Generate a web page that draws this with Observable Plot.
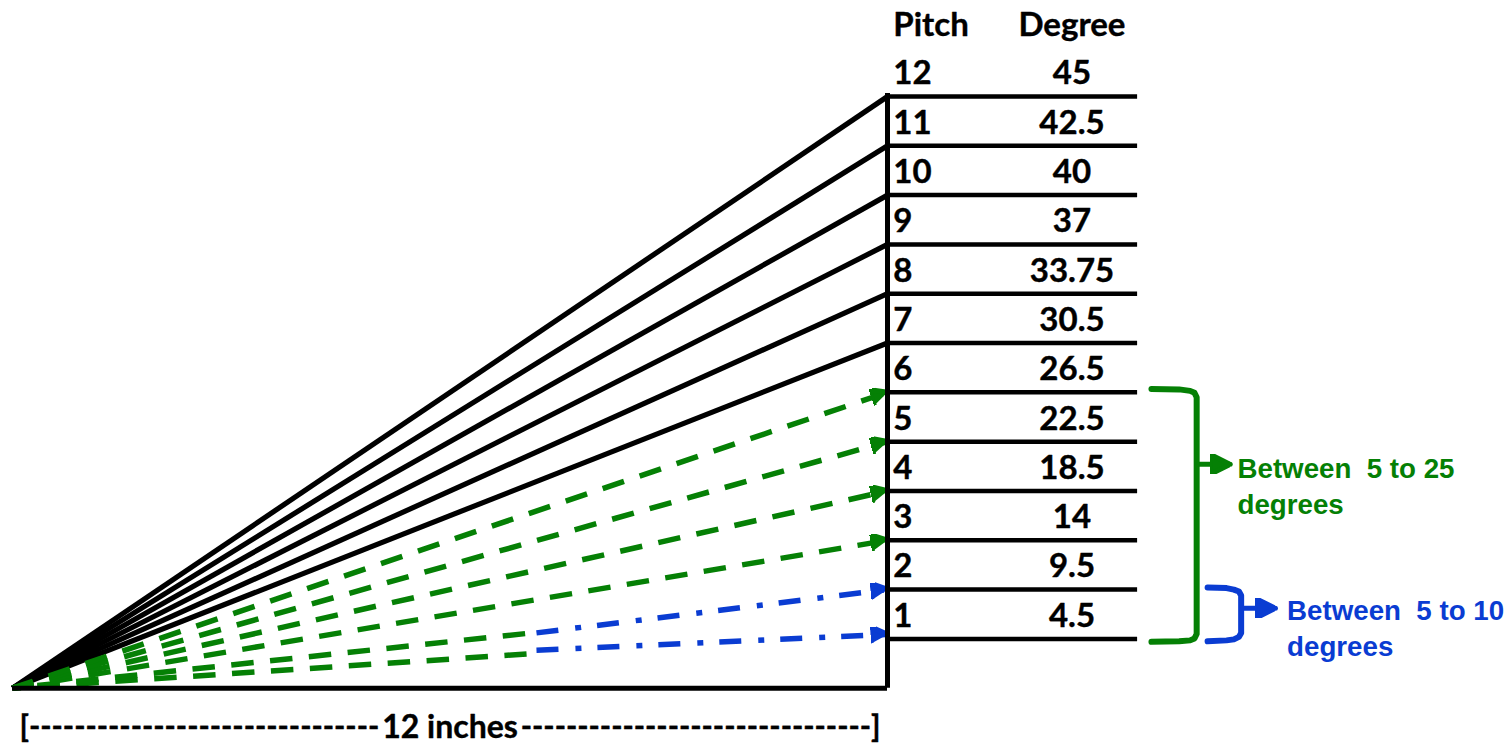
<!DOCTYPE html>
<html><head><meta charset="utf-8">
<script src="https://cdn.jsdelivr.net/npm/d3@7"></script>
<script src="https://cdn.jsdelivr.net/npm/@observablehq/plot@0.6"></script>
<style>html,body{margin:0;padding:0;background:#fff}svg{display:block}</style>
</head><body><div id="chart"></div>
<script>
const pitches = [1,2,3,4,5,6,7,8,9,10,11,12];
const degrees = ["4.5","9.5","14","18.5","22.5","26.5","30.5","33.75","37","40","42.5","45"];
const solidPitches = [7,8,9,10,11,12];
const greenPitches = [3,4,5,6];
// Broken rafters of pitch 1 and 2: green run from the origin, then blue run to the wall
const lowGreen = [{p:1,x:7.05,y:0.694},{p:2,x:7.05,y:1.11}];
const lowBlue = [{x1:7.186,y1:0.769,y2:1.089},{x1:7.186,y1:1.122,y2:2.0}];
const run = 12;
const tableEnd = 15.43;
const pitchColumn = 12.08;
const degreeColumn = 14.53;
const labelLeft = "[" + "-".repeat(31);
const labelMiddle = "12 inches";
const labelRight = "-".repeat(31) + "]";
const greenBracket = [[15.62,6.07],[16.0,6.06],[16.15,6.03],[16.21,5.99],[16.24,5.9],[16.24,1.1],[16.21,1.01],[16.15,0.97],[16.0,0.95],[15.62,0.94]];
const blueBracket = [[16.39,2.04],[16.65,2.03],[16.75,2.0],[16.82,1.96],[16.85,1.88],[16.85,1.12],[16.82,1.04],[16.75,0.99],[16.65,0.97],[16.39,0.95]];
const greenArrow = [[16.27,4.54],[16.7,4.54]];
const blueArrow = [[16.88,1.62],[17.32,1.62]];
const greenNote = ["Between  5 to 25","degrees"];
const blueNote = ["Between  5 to 10","degrees"];

const GREEN = "#058005", BLUE = "#0a3cd2", INK = "#000";
const head = (color) => {
  const m = document.createElementNS("http://www.w3.org/2000/svg","marker");
  m.setAttribute("viewBox","0 0 17 17"); m.setAttribute("refX","17"); m.setAttribute("refY","8.5");
  m.setAttribute("markerWidth","17"); m.setAttribute("markerHeight","17");
  m.setAttribute("markerUnits","userSpaceOnUse"); m.setAttribute("orient","auto");
  const p = document.createElementNS("http://www.w3.org/2000/svg","path");
  p.setAttribute("d","M0,0L17,8.5L0,17Z"); p.setAttribute("fill",color);
  m.appendChild(p); return m;
};
const bigHead = (color) => {
  const m = head(color);
  m.setAttribute("viewBox","0 0 20 20"); m.setAttribute("refX","20"); m.setAttribute("refY","10");
  m.setAttribute("markerWidth","20"); m.setAttribute("markerHeight","20");
  m.firstChild.setAttribute("d","M0,0L20,10L0,20Z");
  return m;
};
const body = {fontFamily:"Lato", fontWeight:700, fontSize:33, fill:INK, stroke:INK, strokeWidth:0.4, lineAnchor:"middle"};
const note = {fontFamily:"Liberation Sans", fontWeight:700, fontSize:27.7, textAnchor:"start", lineAnchor:"middle"};

const chart = Plot.plot({
  width:1506, height:744, margin:0,
  x:{domain:[0,run], range:[12,887], axis:null},
  y:{domain:[0,12], range:[687.7,96], axis:null},
  marks:[
    // solid rafters
    Plot.link(solidPitches,{x1:0,y1:0,x2:run,y2:d=>d,stroke:INK,strokeWidth:5.2}),
    // green dashed rafters
    Plot.link(lowGreen,{x1:0,y1:0,x2:"x",y2:"y",stroke:GREEN,strokeWidth:5.5,strokeDasharray:"22.5 16.5",strokeDashoffset:14}),
    Plot.link(greenPitches,{x1:0,y1:0,x2:run,y2:d=>d,stroke:GREEN,strokeWidth:5.5,strokeDasharray:"22.5 16.5",strokeDashoffset:1,markerEnd:head}),
    // blue dash-dot rafters
    Plot.link(lowBlue,{x1:"x1",y1:"y1",x2:run,y2:"y2",stroke:BLUE,strokeWidth:5.5,strokeDasharray:"22 17 6 16",markerEnd:head}),
    // frame and table rules
    Plot.ruleY([0],{x1:0,x2:run,stroke:INK,strokeWidth:5}),
    Plot.ruleX([run],{y1:0,y2:12.06,stroke:INK,strokeWidth:5}),
    Plot.ruleY(pitches,{x1:run,x2:tableEnd,stroke:INK,strokeWidth:4.5}),
    // table text
    Plot.text(pitches,{x:pitchColumn,y:d=>d+0.46,text:d=>String(d),textAnchor:"start",...body}),
    Plot.text(degrees,{x:degreeColumn,y:(d,i)=>pitches[i]+0.46,text:d=>d,textAnchor:"middle",...body}),
    Plot.text(["Pitch"],{x:pitchColumn,y:13.45,text:d=>d,textAnchor:"start",...body}),
    Plot.text(["Degree"],{x:degreeColumn,y:13.45,text:d=>d,textAnchor:"middle",...body}),
    // bottom dimension label
    Plot.text([labelLeft],{x:5.03,y:-0.8,text:d=>d,textAnchor:"end",...body,fontSize:30.3}),
    Plot.text([labelMiddle],{x:6,y:-0.8,text:d=>d,textAnchor:"middle",...body,fontSize:32}),
    Plot.text([labelRight],{x:6.97,y:-0.8,text:d=>d,textAnchor:"start",...body,fontSize:30.3}),
    // brackets
    Plot.line(greenBracket,{x:d=>d[0],y:d=>d[1],stroke:GREEN,strokeWidth:6,strokeLinejoin:"round",curve:"linear"}),
    Plot.line(blueBracket,{x:d=>d[0],y:d=>d[1],stroke:BLUE,strokeWidth:6,strokeLinejoin:"round",curve:"linear"}),
    Plot.line(greenArrow,{x:d=>d[0],y:d=>d[1],stroke:GREEN,strokeWidth:5,markerEnd:bigHead}),
    Plot.line(blueArrow,{x:d=>d[0],y:d=>d[1],stroke:BLUE,strokeWidth:5,markerEnd:bigHead}),
    // notes
    Plot.text(greenNote,{x:16.8,y:(d,i)=>4.45-i*0.73,text:d=>d,fill:GREEN,...note}),
    Plot.text(blueNote,{x:17.48,y:(d,i)=>1.57-i*0.73,text:d=>d,fill:BLUE,...note})
  ]
});
document.getElementById("chart").appendChild(chart);
</script>
</body></html>
